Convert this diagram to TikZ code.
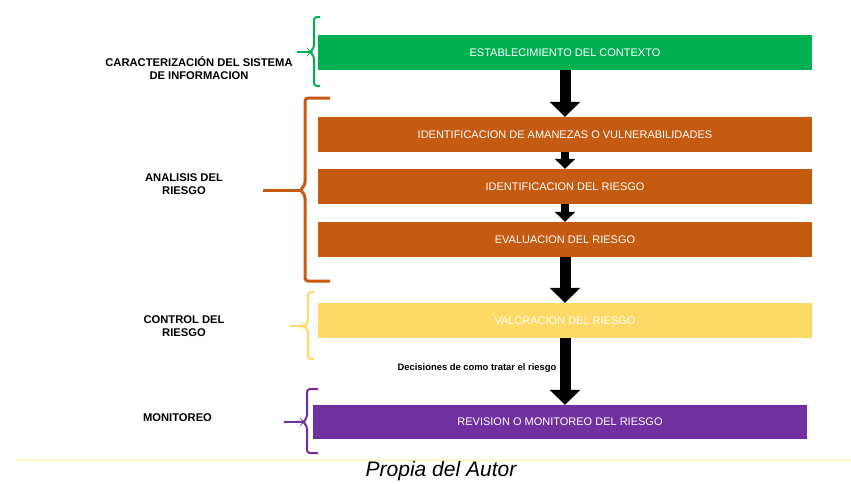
\documentclass[tikz,border=0pt]{standalone}
\usepackage{fontspec}
\setmainfont{Liberation Sans}
\usetikzlibrary{arrows.meta}

\definecolor{verde}{HTML}{00B050}
\definecolor{naranja}{HTML}{C55A11}
\definecolor{amarillo}{HTML}{FFD966}
\definecolor{morado}{HTML}{7030A0}
\definecolor{linea}{HTML}{FFF6A8}

\tikzset{
  caja/.style={minimum width=494pt, minimum height=35pt, inner sep=0pt,
    text=white, font=\fontsize{11}{13}\selectfont},
  etiqueta/.style={align=center, font=\bfseries\fontsize{11.2}{13.5}\selectfont},
  flecha/.style={line width=11pt, -{Triangle[width=30pt,length=15pt]}},
  flechita/.style={line width=8pt, -{Triangle[width=20pt,length=10pt]}},
  llave/.style={line width=2pt, rounded corners=3pt}
}

\begin{document}
\begin{tikzpicture}[x=1pt,y=-1pt]
	\useasboundingbox (0,0) rectangle (851,483);

	% Nodes
	\node[caja, fill=verde] (ctx) at (565,52.5) {ESTABLECIMIENTO DEL CONTEXTO};
	\node[caja, fill=naranja] (ame) at (565,134.5) {IDENTIFICACION DE AMANEZAS O VULNERABILIDADES};
	\node[caja, fill=naranja] (ide) at (565,186.5) {IDENTIFICACION DEL RIESGO};
	\node[caja, fill=naranja] (eva) at (565,239.5) {EVALUACION DEL RIESGO};
	\node[caja, fill=amarillo] (val) at (565,320.5) {VALCRACION DEL RIESGO};
	\node[caja, fill=morado, minimum height=34pt] (rev) at (560,422) {REVISION O MONITOREO DEL RIESGO};

	\node[etiqueta] (car) at (199,68) {CARACTERIZACIÓN DEL SISTEMA\\DE INFORMACION};
	\node[etiqueta] (ana) at (184,184) {ANALISIS DEL\\RIESGO};
	\node[etiqueta] (con) at (184,326) {CONTROL DEL\\RIESGO};
	\node[etiqueta] (mon) at (177.5,418) {MONITOREO};

	\node[font=\bfseries\fontsize{9.4}{11}\selectfont] (dec) at (477,368) {Decisiones de como tratar el riesgo};
	\node[font=\itshape\fontsize{21}{24}\selectfont] (pie) at (441,471) {Propia del Autor};

	% Arrows
	\draw[flecha] (ctx.south) -- (ame.north);
	\draw[flechita] (ame.south) -- (ide.north);
	\draw[flechita] (ide.south) -- (eva.north);
	\draw[flecha] (eva.south) -- (val.north);
	\draw[flecha] (val.south) -- (val.south |- rev.north);

	% Braces
	\draw[llave, verde] (320,17) -- (314,17) -- (314,48) -- (310,52) -- (314,56) -- (314,86) -- (320,86);
	\draw[llave, verde] (310,52) -- (297,52);
	\draw[llave, naranja, line width=3pt] (330,98) -- (305,98) -- (305,185) -- (300,190) -- (305,195) -- (305,281) -- (330,281);
	\draw[llave, naranja, line width=3pt] (300,190) -- (263,190);
	\draw[llave, amarillo] (314,292) -- (308,292) -- (308,322) -- (304,326) -- (308,330) -- (308,359) -- (314,359);
	\draw[llave, amarillo] (304,326) -- (290,326);
	\draw[llave, morado] (318,389) -- (307,389) -- (307,418) -- (303,422) -- (307,426) -- (307,453) -- (318,453);
	\draw[llave, morado] (303,422) -- (284,422);

	% Line
	\draw[linea, line width=1pt] (15,460) -- (851,460);
\end{tikzpicture}
\end{document}
